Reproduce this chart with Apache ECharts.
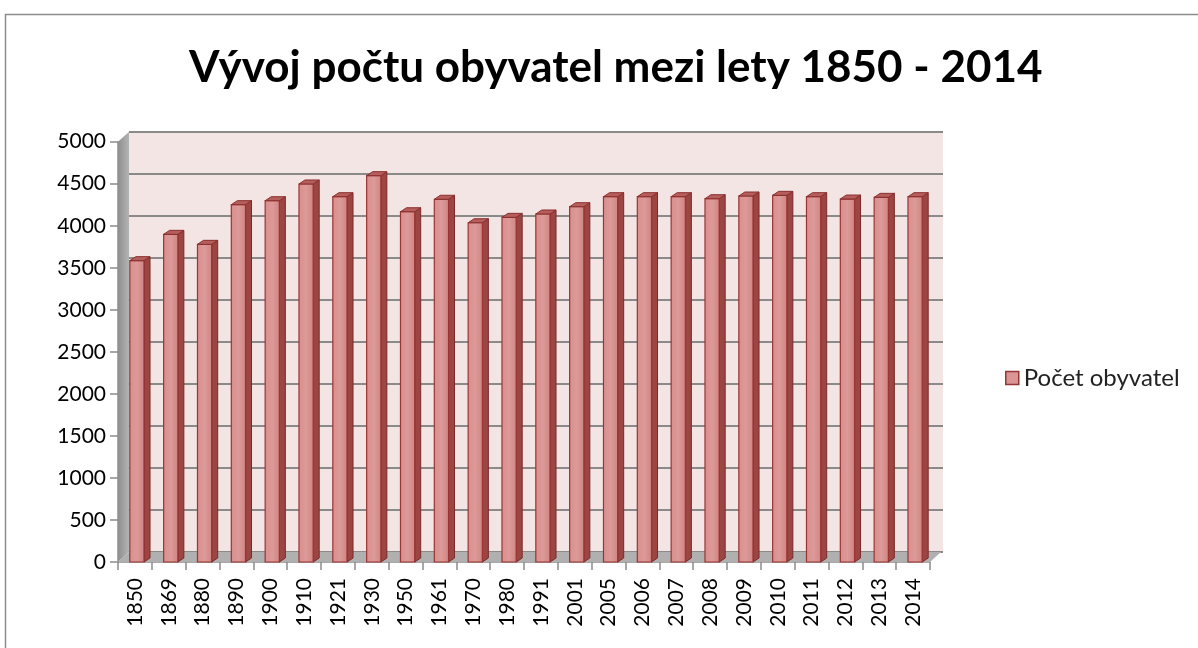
<!DOCTYPE html>
<html>
<head>
<meta charset="utf-8">
<script src="https://cdn.jsdelivr.net/npm/echarts@6/dist/echarts.min.js"></script>
<style>
  html, body { margin: 0; padding: 0; background: #fff; }
  #chart { width: 1198px; height: 648px; }
</style>
</head>
<body>
<div id="chart"></div>
<script>
const years = ['1850', '1869', '1880', '1890', '1900', '1910', '1921', '1930', '1950', '1961', '1970', '1980',
  '1991', '2001', '2005', '2006', '2007', '2008', '2009', '2010', '2011', '2012', '2013', '2014']
const population = [3585, 3898, 3779, 4251, 4298, 4497, 4346, 4596, 4167, 4315, 4036, 4100,
  4140, 4227, 4346, 4346, 4346, 4322, 4354, 4362, 4346, 4318, 4338, 4346]
const seriesName = 'Počet obyvatel'
const titleText = 'Vývoj počtu obyvatel mezi lety 1850 - 2014'

// 3D depth of the plot walls (px)
const DX = 11
const DY = 10

const chart = echarts.init(document.getElementById('chart'))

// left wall + floor, drawn from the grid rect
function renderWalls (params, api) {
  const cs = params.coordSys
  const x = cs.x, y = cs.y, w = cs.width, h = cs.height
  return {
    type: 'group',
    children: [
      {
        type: 'polygon',
        shape: { points: [[x, y], [x + DX, y - DY], [x + DX, y + h - DY], [x, y + h]] },
        style: {
          fill: new echarts.graphic.LinearGradient(0, 0, 1, 0, [
            { offset: 0, color: '#8e8e8e' },
            { offset: 1, color: '#b4b4b4' }
          ])
        }
      },
      {
        type: 'polygon',
        shape: { points: [[x, y + h], [x + DX, y + h - DY], [x + w + DX, y + h - DY], [x + w, y + h]] },
        style: { fill: '#b0b0b0' }
      }
    ]
  }
}

// one 3D column: front face, side face, top face
function renderBar (params, api) {
  const top = api.coord([api.value(0), api.value(1)])
  const base = api.coord([api.value(0), 0])
  const band = api.size([1, 0])[0]
  const w = band * 0.42
  const x0 = top[0] - w / 2 + 2
  const x1 = x0 + w
  const dx = 6, dy = 4
  return {
    type: 'group',
    children: [
      {
        type: 'polygon',
        shape: { points: [[x1, top[1]], [x1 + dx, top[1] - dy], [x1 + dx, base[1] - dy], [x1, base[1]]] },
        style: { fill: '#9c4644', stroke: '#7a2a28', lineWidth: 1 }
      },
      {
        type: 'rect',
        shape: { x: x0, y: top[1], width: w, height: base[1] - top[1] },
        style: {
          fill: new echarts.graphic.LinearGradient(0, 0, 1, 0, [
            { offset: 0, color: '#d98e8c' },
            { offset: 0.5, color: '#dc9a98' },
            { offset: 1, color: '#cf8482' }
          ]),
          stroke: '#9b3432', lineWidth: 1.2
        }
      },
      {
        type: 'polygon',
        shape: { points: [[x0, top[1]], [x0 + dx, top[1] - dy], [x1 + dx, top[1] - dy], [x1, top[1]]] },
        style: { fill: '#b65e5c', stroke: '#8a302e', lineWidth: 1 }
      }
    ]
  }
}

const option = {
  backgroundColor: '#fff',
  animation: false,
  title: {
    text: titleText,
    left: 184,
    top: 41,
    textStyle: { fontFamily: 'Lato', fontWeight: 'bold', fontSize: 44, color: '#000' }
  },
  legend: {
    left: 1000,
    top: 361,
    itemWidth: 13,
    itemHeight: 13,
    itemGap: 8,
    data: [{ name: seriesName, icon: 'rect', itemStyle: { color: '#d99694', borderColor: '#953735', borderWidth: 1.5 } }],
    textStyle: { fontFamily: 'Lato', fontSize: 24, color: '#222' }
  },
  graphic: [
    {
      type: 'rect',
      left: 3, top: 12,
      shape: { width: 1220, height: 700 },
      style: { fill: 'none', stroke: '#8c8c8c', lineWidth: 1.5 },
      silent: true
    }
  ],
  grid: [
    { left: 118, right: 268, top: 141.7, bottom: 86 },
    { left: 129, right: 255, top: 131.7, bottom: 96, show: true, backgroundColor: '#f4e5e5', borderWidth: 0 }
  ],
  xAxis: [
    {
      type: 'category',
      gridIndex: 0,
      data: years,
      axisLine: { show: true, lineStyle: { color: '#8c8c8c', width: 1.5 } },
      axisTick: { show: true, length: 8, lineStyle: { color: '#8c8c8c', width: 1.5 } },
      axisLabel: { rotate: 90, margin: 16, fontFamily: 'Lato', fontSize: 21, color: '#000' }
    },
    {
      type: 'category',
      gridIndex: 1,
      data: years,
      show: false
    }
  ],
  yAxis: [
    {
      type: 'value',
      gridIndex: 0,
      min: 0,
      max: 5000,
      interval: 500,
      axisLine: { show: true, lineStyle: { color: '#8c8c8c', width: 1.5 } },
      axisTick: { show: true, length: 8, lineStyle: { color: '#8c8c8c', width: 1.5 } },
      axisLabel: { margin: 12, fontFamily: 'Lato', fontSize: 21, color: '#000', formatter: v => String(v) },
      splitLine: { show: false }
    },
    {
      type: 'value',
      gridIndex: 1,
      min: 0,
      max: 5000,
      interval: 500,
      axisLine: { show: false },
      axisTick: { show: false },
      axisLabel: { show: false },
      splitLine: { show: true, lineStyle: { color: '#8a8a8a', width: 2 } }
    }
  ],
  series: [
    {
      type: 'custom',
      name: 'walls',
      xAxisIndex: 0,
      yAxisIndex: 0,
      z: 1,
      silent: true,
      renderItem: renderWalls,
      data: [[0, 0]]
    },
    {
      type: 'custom',
      name: seriesName,
      xAxisIndex: 0,
      yAxisIndex: 0,
      z: 3,
      itemStyle: { color: '#d99694', borderColor: '#953735' },
      renderItem: renderBar,
      encode: { x: 0, y: 1 },
      data: population.map((v, i) => [i, v])
    }
  ]
}

chart.setOption(option)
</script>
</body>
</html>
